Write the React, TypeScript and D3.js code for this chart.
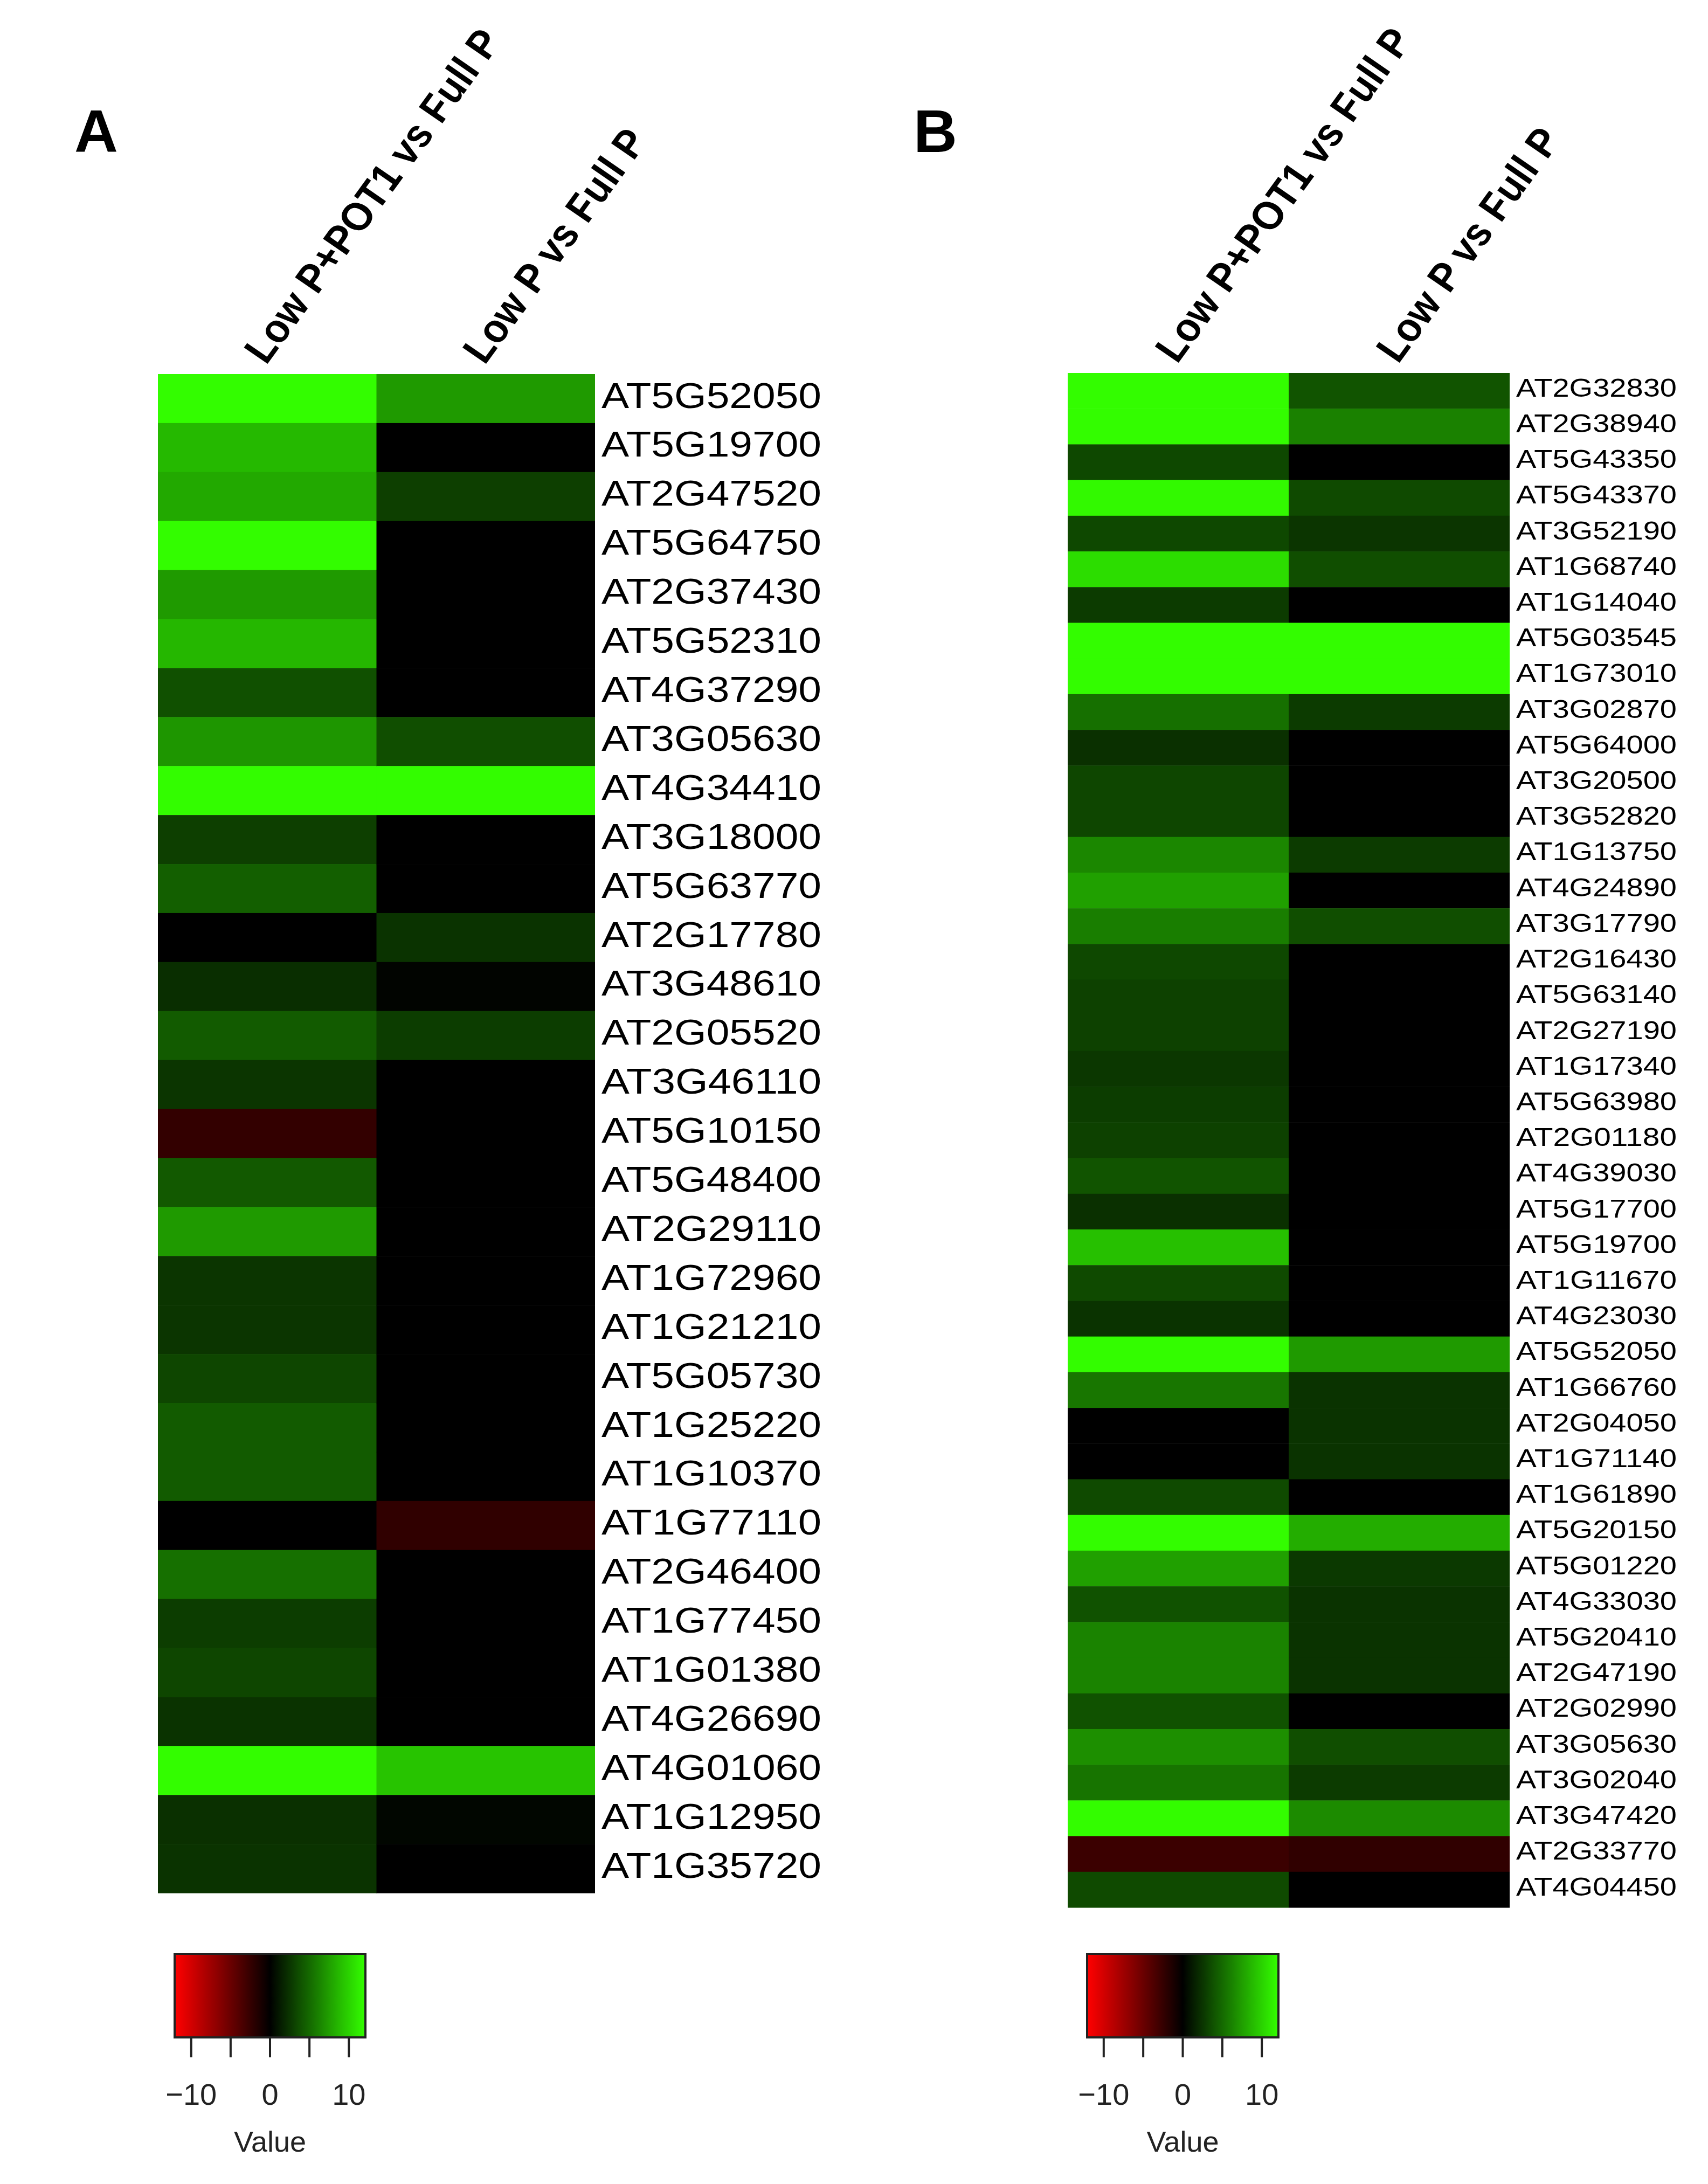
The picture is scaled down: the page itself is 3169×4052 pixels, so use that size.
import React from "react";
import * as d3 from "d3";

// ---------------- DATA ----------------
const columnLabels = ["Low P+POT1 vs Full P", "Low P vs Full P"];

const genesA = [
  "AT5G52050", "AT5G19700", "AT2G47520", "AT5G64750", "AT2G37430", "AT5G52310",
  "AT4G37290", "AT3G05630", "AT4G34410", "AT3G18000", "AT5G63770", "AT2G17780",
  "AT3G48610", "AT2G05520", "AT3G46110", "AT5G10150", "AT5G48400", "AT2G29110",
  "AT1G72960", "AT1G21210", "AT5G05730", "AT1G25220", "AT1G10370", "AT1G77110",
  "AT2G46400", "AT1G77450", "AT1G01380", "AT4G26690", "AT4G01060", "AT1G12950",
  "AT1G35720",
];
const lowPPot1A = [
  12, 8.8, 8.0, 12, 7.3, 8.7, 3.8, 7.1, 12, 3.0, 4.5, 0, 2.2, 4.3, 2.5, -2.4,
  4.2, 7.3, 2.5, 2.5, 3.3, 4.3, 4.3, 0, 5.3, 2.9, 3.3, 2.4, 12, 2.3, 2.4,
];
const lowPA = [
  7.3, 0, 3.0, 0, 0, 0, 0, 3.7, 12, 0, 0, 2.4, 0.2, 2.9, 0, 0,
  0, 0, 0, 0, 0, 0, 0, -2.3, 0, 0, 0, 0, 9.3, 0.3, 0,
];

const genesB = [
  "AT2G32830", "AT2G38940", "AT5G43350", "AT5G43370", "AT3G52190", "AT1G68740",
  "AT1G14040", "AT5G03545", "AT1G73010", "AT3G02870", "AT5G64000", "AT3G20500",
  "AT3G52820", "AT1G13750", "AT4G24890", "AT3G17790", "AT2G16430", "AT5G63140",
  "AT2G27190", "AT1G17340", "AT5G63980", "AT2G01180", "AT4G39030", "AT5G17700",
  "AT5G19700", "AT1G11670", "AT4G23030", "AT5G52050", "AT1G66760", "AT2G04050",
  "AT1G71140", "AT1G61890", "AT5G20150", "AT5G01220", "AT4G33030", "AT5G20410",
  "AT2G47190", "AT2G02990", "AT3G05630", "AT3G02040", "AT3G47420", "AT2G33770",
  "AT4G04450",
];
const lowPPot1B = [
  12, 12, 3.4, 11.8, 3.4, 10.5, 2.8, 12, 12, 5.3, 2.3, 3.3, 3.3, 6.4, 7.6, 6.0,
  3.4, 3.1, 3.1, 2.6, 2.9, 3.1, 4.0, 2.3, 9.1, 3.5, 2.4, 12, 5.6, 0, 0, 3.5,
  12, 7.6, 3.9, 6.2, 6.2, 3.9, 6.8, 5.5, 12, -2.8, 3.5,
];
const lowPB = [
  4.0, 6.1, 0, 3.5, 2.5, 3.7, 0, 12, 12, 2.8, 0, 0, 0, 2.8, 0, 3.7,
  0, 0, 0, 0, 0, 0, 0, 0, 0, 0, 0, 7.3, 2.4, 2.4, 2.4, 0,
  8.2, 2.7, 2.4, 2.4, 2.4, 0, 3.7, 2.8, 6.6, -2.3, 0,
];

const keyTicks = [-10, -5, 0, 5, 10];
const keyTickLabels = ["\u221210", "", "0", "", "10"];
const keyTitle = "Value";

// ---------------- STYLE / LAYOUT ----------------
const W = 3169;
const H = 4052;
const FONT = "'Liberation Sans', Arial, Helvetica, sans-serif";
const STRETCH = 1.26;
const RANGE = 12.1;

const color = d3
  .scaleLinear<string>()
  .domain([-RANGE, 0, RANGE])
  .range(["#ff0000", "#000000", "#33ff00"])
  .clamp(true);

type PanelProps = {
  letter: string;
  letterX: number;
  genes: string[];
  col1: number[];
  col2: number[];
  x0: number;
  x1: number;
  y0: number;
  y1: number;
  labelFont: number;
  labelLen: number;
  keyX0: number;
  keyX1: number;
};

function Panel(p: PanelProps) {
  const rows = d3.scaleBand<string>().domain(p.genes.map((g, i) => i + "")).range([p.y0, p.y1]).padding(0);
  const cols = d3.scaleBand<string>().domain(columnLabels).range([p.x0, p.x1]).padding(0);
  const series = [p.col1, p.col2];
  const rh = rows.bandwidth();

  const key = d3.scaleLinear().domain([-RANGE, RANGE]).range([p.keyX0, p.keyX1]);
  const keyTop = 3625;
  const keyBot = 3780;
  const gid = "grad" + p.letter;

  return (
    <g>
      <text x={p.letterX} y={282} fontFamily={FONT} fontWeight="bold" fontSize={112} fill="#000">
        {p.letter}
      </text>

      {columnLabels.map((c) => {
        const cx = (cols(c) as number) + cols.bandwidth() / 2;
        return (
          <g key={c} transform={`translate(${cx},${p.y0 - 18}) scale(${STRETCH},1) rotate(-60)`}>
            <text x={0} y={0} fontFamily={FONT} fontWeight="bold" fontStyle="italic" fontSize={66} fill="#000">
              {c}
            </text>
          </g>
        );
      })}

      {series.map((vals, ci) =>
        vals.map((v, ri) => (
          <rect
            key={ci + "-" + ri}
            x={cols(columnLabels[ci]) as number}
            y={rows(ri + "") as number}
            width={cols.bandwidth() + (ci === 0 ? 0.5 : 0)}
            height={rh + 0.5}
            fill={color(v)}
          />
        ))
      )}

      {p.genes.map((g, i) => (
        <text
          key={g + i}
          x={p.x1 + 12}
          y={(rows(i + "") as number) + rh / 2 + 0.36 * p.labelFont - 7}
          fontFamily={FONT}
          fontSize={p.labelFont}
          textLength={p.labelLen}
          lengthAdjust="spacingAndGlyphs"
          fill="#000"
        >
          {g}
        </text>
      ))}

      <defs>
        <linearGradient id={gid} x1="0" x2="1" y1="0" y2="0">
          {d3.range(0, 21).map((k) => {
            const t = k / 20;
            return <stop key={k} offset={t} stopColor={color(-RANGE + 2 * RANGE * t)} />;
          })}
        </linearGradient>
      </defs>
      <rect
        x={key(-RANGE)}
        y={keyTop}
        width={key(RANGE) - key(-RANGE)}
        height={keyBot - keyTop}
        fill={`url(#${gid})`}
        stroke="#222"
        strokeWidth={4}
      />
      {keyTicks.map((t, i) => (
        <g key={t}>
          <line x1={key(t)} x2={key(t)} y1={keyBot} y2={keyBot + 37} stroke="#222" strokeWidth={4} />
          {keyTickLabels[i] && (
            <text
              x={key(t)}
              y={3905}
              textAnchor="middle"
              fontFamily={FONT}
              fontSize={56}
              fill="#222"
            >
              {keyTickLabels[i]}
            </text>
          )}
        </g>
      ))}
      <text x={key(0)} y={3992} textAnchor="middle" fontFamily={FONT} fontSize={54} fill="#222">
        {keyTitle}
      </text>
    </g>
  );
}

export default function App() {
  return (
    <svg
      width={W}
      height={H}
      viewBox={`0 0 ${W} ${H}`}
      style={{ position: "absolute", left: 0, top: 0, display: "block", background: "#fff" }}
    >
      <rect x={0} y={0} width={W} height={H} fill="#fff" />
      <Panel
        letter="A"
        letterX={138}
        genes={genesA}
        col1={lowPPot1A}
        col2={lowPA}
        x0={293}
        x1={1104}
        y0={694}
        y1={3512}
        labelFont={67}
        labelLen={408}
        keyX0={324}
        keyX1={678}
      />
      <Panel
        letter="B"
        letterX={1695}
        genes={genesB}
        col1={lowPPot1B}
        col2={lowPB}
        x0={1981}
        x1={2801}
        y0={692}
        y1={3539}
        labelFont={49}
        labelLen={298}
        keyX0={2017}
        keyX1={2372}
      />
    </svg>
  );
}
